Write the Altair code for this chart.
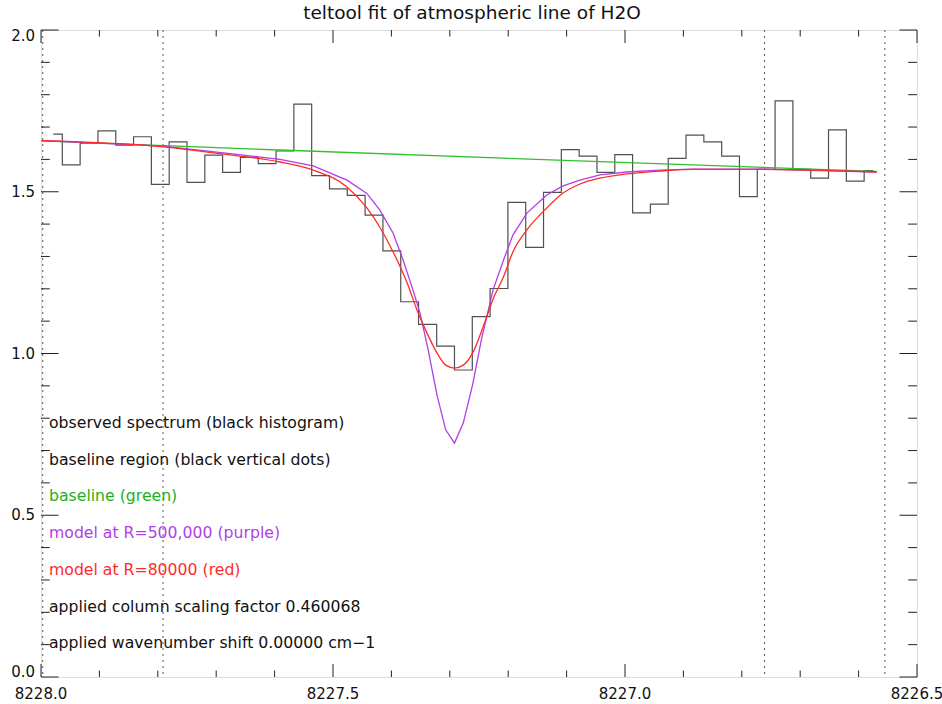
import altair as alt
import pandas as pd

# ---------------- data ----------------
obs_x = [8227.979, 8227.948, 8227.918, 8227.887, 8227.857, 8227.826, 8227.796, 8227.765,
         8227.735, 8227.704, 8227.674, 8227.643, 8227.613, 8227.582, 8227.552, 8227.521,
         8227.491, 8227.460, 8227.430, 8227.399, 8227.369, 8227.338, 8227.307, 8227.277,
         8227.246, 8227.216, 8227.185, 8227.155, 8227.124, 8227.094, 8227.063, 8227.033,
         8227.002, 8226.972, 8226.941, 8226.911, 8226.880, 8226.850, 8226.819, 8226.789,
         8226.758, 8226.728, 8226.697, 8226.667, 8226.636, 8226.606, 8226.575]
obs_y = [1.678, 1.583, 1.650, 1.688, 1.644, 1.670, 1.523, 1.654,
         1.529, 1.613, 1.560, 1.606, 1.587, 1.626, 1.771, 1.550,
         1.509, 1.489, 1.428, 1.317, 1.160, 1.090, 1.023, 0.949,
         1.114, 1.201, 1.467, 1.328, 1.498, 1.630, 1.610, 1.560,
         1.615, 1.435, 1.462, 1.603, 1.675, 1.654, 1.610, 1.485,
         1.569, 1.781, 1.569, 1.542, 1.691, 1.533, 1.565]

purple_x = [8227.999, 8227.791, 8227.676, 8227.591, 8227.534, 8227.476, 8227.442, 8227.420,
            8227.397, 8227.380, 8227.363, 8227.351, 8227.338, 8227.322, 8227.307, 8227.292,
            8227.277, 8227.261, 8227.246, 8227.226, 8227.208, 8227.192, 8227.168, 8227.134,
            8227.106, 8227.077, 8227.043, 8226.997, 8226.940, 8226.884, 8226.769, 8226.569]
purple_y = [1.658, 1.641, 1.618, 1.600, 1.580, 1.536, 1.495, 1.444,
            1.372, 1.289, 1.196, 1.125, 1.020, 0.872, 0.764, 0.723,
            0.785, 0.903, 1.042, 1.196, 1.289, 1.366, 1.434, 1.490,
            1.518, 1.536, 1.552, 1.561, 1.567, 1.570, 1.570, 1.561]

red_x = [8227.999, 8227.791, 8227.676, 8227.591, 8227.534, 8227.476, 8227.442, 8227.420,
         8227.397, 8227.373, 8227.356, 8227.339, 8227.322, 8227.307, 8227.292, 8227.277,
         8227.260, 8227.243, 8227.226, 8227.208, 8227.192, 8227.168, 8227.134, 8227.106,
         8227.077, 8227.043, 8226.997, 8226.940, 8226.884, 8226.769, 8226.569]
red_y = [1.658, 1.639, 1.614, 1.592, 1.567, 1.515, 1.450, 1.391,
         1.314, 1.218, 1.134, 1.063, 1.002, 0.964, 0.955, 0.964,
         1.005, 1.082, 1.168, 1.237, 1.314, 1.382, 1.450, 1.496,
         1.524, 1.542, 1.555, 1.564, 1.569, 1.569, 1.561]

base_x = [8228.000, 8227.591, 8227.043, 8226.569]
base_y = [1.657, 1.629, 1.593, 1.563]

region_x = [8227.997, 8227.791, 8226.761, 8226.555]

x_major = [8228.0, 8227.5, 8227.0, 8226.5]
x_minor = [8227.9, 8227.8, 8227.7, 8227.6, 8227.4, 8227.3, 8227.2, 8227.1,
           8226.9, 8226.8, 8226.7, 8226.6]
y_major = [0.0, 0.5, 1.0, 1.5, 2.0]
y_minor = [0.1, 0.2, 0.3, 0.4, 0.6, 0.7, 0.8, 0.9, 1.1, 1.2, 1.3, 1.4,
           1.6, 1.7, 1.8, 1.9]

notes = ["observed spectrum (black histogram)",
         "baseline region (black vertical dots)",
         "baseline (green)",
         "model at R=500,000 (purple)",
         "model at R=80000 (red)",
         "applied column scaling factor 0.460068",
         "applied wavenumber shift 0.00000 cm\u22121"]
note_colors = ["#111111", "#111111", "#22b022", "#b23ee6", "#ff2a2a", "#111111", "#111111"]

TITLE = "teltool fit of atmospheric line of H2O"

# ---------------- layout ----------------
W, H = 876, 647
FONT = "DejaVu Sans"
INK = "#111111"

xs = alt.Scale(domain=[8226.5, 8228.0], reverse=True, nice=False, zero=False)
ys = alt.Scale(domain=[0.0, 2.0], nice=False, zero=False)

def X(field="x"):
    return alt.X(f"{field}:Q", scale=xs, axis=None)

def Y(field="y"):
    return alt.Y(f"{field}:Q", scale=ys, axis=None)

obs = pd.DataFrame({"x": obs_x, "y": obs_y})
pur = pd.DataFrame({"x": purple_x, "y": purple_y})
red = pd.DataFrame({"x": red_x, "y": red_y})
bas = pd.DataFrame({"x": base_x, "y": base_y})

hist = alt.Chart(obs).mark_line(interpolate="step", color="#505050", strokeWidth=1.2).encode(
    x=X(), y=Y())

def curve(df, color, interp, width=1.3):
    return alt.Chart(df).mark_line(color=color, strokeWidth=width, interpolate=interp).encode(
        x=X(), y=Y())

green = curve(bas, "#2fbf2f", "linear")
purple = curve(pur, "#b23ee6", "linear")
redc = curve(red, "#ff2a2a", "monotone")

regions = alt.Chart(pd.DataFrame({"x": region_x})).mark_rule(
    color="#555555", strokeWidth=1, strokeDash=[2, 4]).encode(
    x=X(), y=alt.value(0), y2=alt.value(H))

def xticks(vals, length):
    d = pd.DataFrame({"x": vals})
    bot = alt.Chart(d).mark_rule(color="#222222", strokeWidth=1).encode(
        x=X(), y=alt.value(H), y2=alt.value(H - length))
    top = alt.Chart(d).mark_rule(color="#222222", strokeWidth=1).encode(
        x=X(), y=alt.value(0), y2=alt.value(length))
    return [bot, top]

def yticks(vals, length):
    d = pd.DataFrame({"y": vals})
    lft = alt.Chart(d).mark_rule(color="#222222", strokeWidth=1).encode(
        y=Y(), x=alt.value(0), x2=alt.value(length))
    rgt = alt.Chart(d).mark_rule(color="#222222", strokeWidth=1).encode(
        y=Y(), x=alt.value(W), x2=alt.value(W - length))
    return [lft, rgt]

ticks = xticks(x_major, 13) + xticks(x_minor, 6.5) + yticks(y_major, 17.5) + yticks(y_minor, 8.8)

# tick labels drawn as text through the scales
xlab = alt.Chart(pd.DataFrame({"x": x_major})).mark_text(
    align="center", baseline="middle", font=FONT, fontSize=15, color=INK).encode(
    x=X(), y=alt.value(H + 17), text=alt.Text("x:Q", format=".1f"))

ymax, ymin = max(y_major), min(y_major)
y_top = [v for v in y_major if v == ymax]
y_mid = [v for v in y_major if ymin < v < ymax]
y_bot = [v for v in y_major if v == ymin]

def ylab(vals, baseline, dy):
    return alt.Chart(pd.DataFrame({"y": vals})).mark_text(
        align="right", baseline=baseline, dy=dy, font=FONT, fontSize=15, color=INK).encode(
        y=Y(), x=alt.value(-6), text=alt.Text("y:Q", format=".1f"))

ylabs = [ylab(y_top, "alphabetic", 11), ylab(y_mid, "middle", 0), ylab(y_bot, "alphabetic", 0)]

texts = []
for i, (t, c) in enumerate(zip(notes, note_colors)):
    texts.append(
        alt.Chart(pd.DataFrame({"t": [t]})).mark_text(
            align="left", baseline="middle", font=FONT, fontSize=15.7, color=c).encode(
            text="t:N", x=alt.value(8), y=alt.value(393 + i * 36.7))
    )

chart = alt.layer(hist, regions, green, purple, redc, *ticks, xlab, *ylabs, *texts).properties(
    width=W, height=H,
    title=alt.TitleParams(TITLE, font=FONT, fontSize=18.5, fontWeight="normal",
                          color=INK, anchor="middle", offset=7, dx=-7),
    autosize=alt.AutoSizeParams(type="none"),
    padding={"left": 41, "top": 30, "right": 25, "bottom": 27},
).configure_view(stroke=INK, strokeWidth=1).configure(background="white")

chart.save("out.html", embed_options={"renderer": "svg", "actions": False})
